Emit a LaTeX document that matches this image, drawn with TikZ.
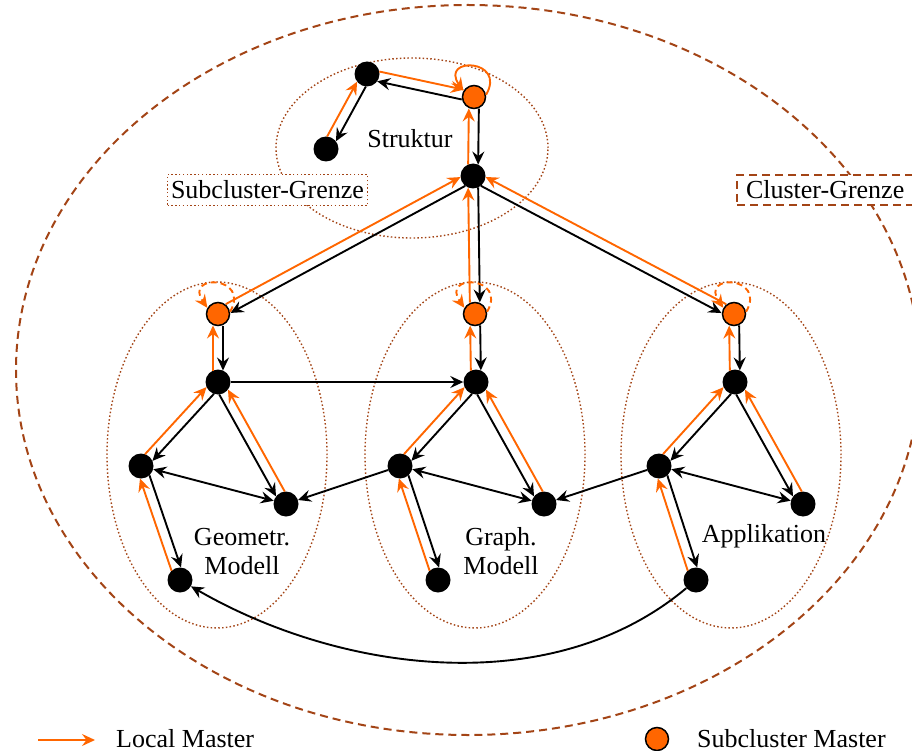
\documentclass[tikz,border=0pt]{standalone}
\usepackage{fontspec}
\setmainfont{Liberation Serif}
\usetikzlibrary{arrows.meta,calc}
\definecolor{lm}{RGB}{255,102,0}
\definecolor{rim}{RGB}{163,68,22}

% black edge #1 -> #2 with orange edge back, placed side by side
\newcommand\duoL[2]{%
  \draw[blk,link] ($(#1)!5pt!90:(#2)$) -- ($(#2)!5pt!-90:(#1)$);
  \draw[org,link] ($(#2)!5pt!90:(#1)$) -- ($(#1)!5pt!-90:(#2)$);}
\newcommand\duoR[2]{%
  \draw[blk,link] ($(#1)!5pt!-90:(#2)$) -- ($(#2)!5pt!90:(#1)$);
  \draw[org,link] ($(#2)!5pt!-90:(#1)$) -- ($(#1)!5pt!90:(#2)$);}

\begin{document}
\begin{tikzpicture}[x=1pt,y=1pt,
  font=\fontsize{26}{30}\selectfont,
  headed/.style={-{Stealth[length=13pt,width=12pt,inset=4.5pt]}},
  twohead/.style={{Stealth[length=13pt,width=12pt,inset=4.5pt]}-{Stealth[length=13pt,width=12pt,inset=4.5pt]}},
  bn/.style={circle,fill=black,minimum size=25pt,inner sep=0pt},
  mn/.style={circle,fill=lm,draw=black,line width=1.5pt,minimum size=23pt,inner sep=0pt},
  blk/.style={headed,line width=1.9pt,black},
  org/.style={headed,line width=1.9pt,lm},
  link/.style={shorten >=11.5pt,shorten <=11.5pt},
  selfloop/.style={headed,line width=1.9pt,lm},
  subrim/.style={rim,line width=1.4pt,dash pattern=on 1.5pt off 2.3pt},
  outerrim/.style={rim,line width=2pt,dash pattern=on 8pt off 5pt},
  lbl/.style={inner sep=0pt,anchor=base},
]
\useasboundingbox (0,0) rectangle (912,-751);
\clip (0,0) rectangle (912,-751);

% cluster and subcluster boundaries
\draw[outerrim] (468,-370) ellipse [x radius=452, y radius=365];
\draw[subrim] (412,-148) ellipse [x radius=136, y radius=90];
\draw[subrim] (217,-455) ellipse [x radius=110, y radius=173];
\draw[subrim] (475,-455) ellipse [x radius=110, y radius=173];
\draw[subrim] (731,-455) ellipse [x radius=110, y radius=173];

% boundary captions
\node[subrim,draw,fill=white,minimum height=31pt,inner xsep=3.5pt,text=black] (sg) at (267.5,-190) {Subcluster-Grenze};
\node[outerrim,draw,fill=white,minimum height=30pt,anchor=west,text width=185pt,inner xsep=9pt,text=black] (cg) at (736,-190) {Cluster-Grenze};

% Struktur
\node[bn] (sa) at (367,-74) {};
\node[bn] (sb) at (326,-149) {};
\node[mn] (sc) at (474,-97) {};
\node[bn] (sd) at (473,-176) {};
\node[lbl] (st) at (410,-148) {Struktur};

% Geometr. Modell
\node[mn] (g0) at (218,-314) {};
\node[bn] (g1) at (218,-382) {};
\node[bn] (g2) at (141,-466) {};
\node[bn] (g3) at (286,-504) {};
\node[bn] (g4) at (180,-580) {};
\node[lbl] (gt1) at (242,-545) {Geometr.};
\node[lbl] (gt2) at (242,-574) {Modell};

% Graph. Modell
\node[mn] (p0) at (475,-314) {};
\node[bn] (p1) at (476,-382) {};
\node[bn] (p2) at (400,-466) {};
\node[bn] (p3) at (544,-504) {};
\node[bn] (p4) at (438,-580) {};
\node[lbl] (pt1) at (501,-545) {Graph.};
\node[lbl] (pt2) at (501,-574) {Modell};

% Applikation
\node[mn] (a0) at (734,-314) {};
\node[bn] (a1) at (735,-382) {};
\node[bn] (a2) at (659,-466) {};
\node[bn] (a3) at (803,-504) {};
\node[bn] (a4) at (696,-580) {};
\node[lbl] (at) at (764,-542) {Applikation};

% edges inside Struktur
\duoL{sc}{sa}
\duoL{sa}{sb}
\duoL{sc}{sd}
\draw[selfloop] (sc.10) to[out=60,in=125,min distance=42pt] (sc.150);

% Struktur to the subcluster masters
\duoL{sd}{g0}
\duoL{sd}{p0}
\duoR{sd}{a0}

% edges inside each subcluster
\foreach \c in {g,p,a}{
  \duoL{\c0}{\c1}
  \duoL{\c1}{\c2}
  \duoR{\c1}{\c3}
  \duoL{\c2}{\c4}
  \draw[twohead,line width=1.9pt] (\c2) -- (\c3);
  \draw[selfloop,dash pattern=on 6pt off 4pt] (\c0.10) to[out=60,in=125,min distance=42pt] (\c0.150);
}

% edges between subclusters
\draw[blk] (g1) -- (p1);
\draw[blk] (p2) -- (g3);
\draw[blk] (a2) -- (p3);
\draw[blk] (a4) to[out=-140,in=-30,looseness=0.9] (g4);

% legend
\coordinate (la) at (38,-740);
\coordinate (lb) at (95,-740);
\draw[org] (la) -- (lb);
\node[inner sep=0pt,anchor=base west] (lt) at (116,-747) {Local Master};
\node[mn] (lm) at (657,-739) {};
\node[inner sep=0pt,anchor=base west] (mt) at (697,-747) {Subcluster Master};
\end{tikzpicture}
\end{document}
